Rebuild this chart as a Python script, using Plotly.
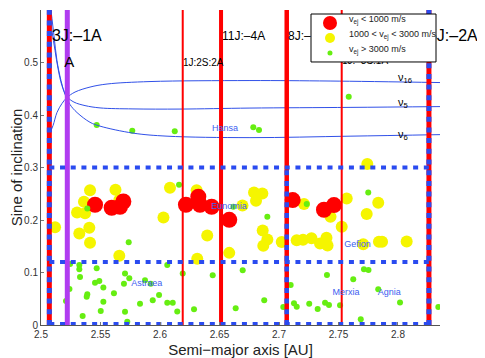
import plotly.graph_objects as go

# asteroid families: semi-major axis [AU] and sine of inclination
red_a = [2.5454, 2.5594, 2.5664, 2.5692, 2.6218, 2.6322, 2.6336, 2.6434, 2.6582, 2.7115, 2.7378, 2.7462]
red_i = [0.229, 0.2233, 0.2252, 0.2353, 0.229, 0.2443, 0.229, 0.2252, 0.2004, 0.238, 0.2195, 0.2284]

yellow_a = [2.5118, 2.5412, 2.5361, 2.5303, 2.5370, 2.5322, 2.5406, 2.5412, 2.5626, 2.5658,
            2.5658, 2.6029, 2.6084, 2.6308, 2.6397, 2.6313, 2.6582, 2.6693, 2.6790, 2.6860,
            2.6807, 2.6863, 2.6902, 2.6868, 2.7023, 2.7149, 2.7202, 2.7210, 2.7273, 2.7345,
            2.7399, 2.7408, 2.7433, 2.7527, 2.7569, 2.7708, 2.7737, 2.7742, 2.7834, 2.7840,
            2.7866, 2.8073]
yellow_i = [0.1861, 0.2567, 0.2347, 0.2143, 0.2128, 0.1742, 0.1851, 0.1565, 0.2576, 0.2380,
            0.1317, 0.2048, 0.2615, 0.2567, 0.1704, 0.1263, 0.1374, 0.2277, 0.2525, 0.2506,
            0.2366, 0.1800, 0.1628, 0.1508, 0.1580, 0.1616, 0.1622, 0.2303, 0.1651, 0.1552,
            0.1660, 0.1513, 0.2061, 0.1870, 0.2410, 0.1540, 0.2113, 0.3067, 0.2328, 0.1584,
            0.1584, 0.1590]

green_a = [2.5468, 2.5767, 2.6124, 2.6784, 2.6832, 2.7586, 2.6160, 2.5389, 2.6616, 2.6902,
           2.7233, 2.7750, 2.5737, 2.5244, 2.5322, 2.5322, 2.5468, 2.5328, 2.5706, 2.5742,
           2.5697, 2.5454, 2.5490, 2.5524, 2.5613, 2.5389, 2.5384, 2.5524, 2.5350, 2.5502,
           2.5706, 2.5725, 2.5832, 2.5939, 2.5992, 2.6061, 2.6061, 2.6107, 2.5874, 2.5922,
           2.5239, 2.5210, 2.6191, 2.6443, 2.6695, 2.6145, 2.6286, 2.6636, 2.6876, 2.7098,
           2.7126, 2.7149, 2.7036, 2.7403, 2.7624, 2.7714, 2.7752, 2.7834, 2.8017, 2.8339,
           2.7254, 2.7325, 2.7387, 2.7420, 2.7513, 2.7687]
green_i = [0.3811, 0.3702, 0.3689, 0.3765, 0.3712, 0.4347, 0.2672, 0.2219, 0.2252, 0.2061,
           0.2303, 0.2525, 0.1578, 0.1164, 0.1145, 0.1063, 0.1082, 0.0916, 0.0979, 0.0891,
           0.0788, 0.0807, 0.0840, 0.0712, 0.0605, 0.0586, 0.0540, 0.0445, 0.0172, 0.0267,
           0.0254, 0.0063, 0.0406, 0.0471, 0.0573, 0.1145, 0.0426, 0.0426, 0.0853, 0.0788,
           0.0687, 0.0458, 0.0979, 0.0948, 0.1044, 0.0258, 0.0300, 0.0319, 0.0471, 0.0763,
           0.0414, 0.0349, 0.0344, 0.0954, 0.0872, 0.1063, 0.1046, 0.0681, 0.0429, 0.0344,
           0.0406, 0.0305, 0.0424, 0.0382, 0.0378, 0.0111]

# secular resonances
nu16_a = [2.5071, 2.5101, 2.5134, 2.5176, 2.5218, 2.5286, 2.5412, 2.5555, 2.5916, 2.6756, 2.7429, 2.8353]
nu16_i = [0.3645, 0.3798, 0.4046, 0.4218, 0.4332, 0.4437, 0.4532, 0.4590, 0.4637, 0.4656, 0.4647, 0.4618]
nu5_a = [2.5076, 2.5092, 2.5118, 2.5143, 2.5176, 2.5218, 2.5277, 2.5370, 2.5496, 2.5773, 2.6168, 2.6756, 2.7597, 2.8353]
nu5_i = [0.5992, 0.5611, 0.5229, 0.4885, 0.4561, 0.4351, 0.4246, 0.4179, 0.4135, 0.4116, 0.4113, 0.4132, 0.4145, 0.4160]
nu6_a = [2.5084, 2.5109, 2.5134, 2.5168, 2.5202, 2.5244, 2.5303, 2.5412, 2.5496, 2.5773, 2.6059, 2.6756, 2.7597, 2.8353]
nu6_i = [0.5992, 0.5515, 0.5038, 0.4656, 0.4389, 0.4198, 0.4046, 0.3861, 0.3788, 0.3655, 0.3597, 0.3569, 0.3597, 0.3626]
nu_names = ["ν<sub>16</sub>", "ν<sub>5</sub>", "ν<sub>6</sub>"]
nu_label_a = [2.800, 2.800, 2.800]
nu_label_i = [0.470, 0.423, 0.362]

# mean motion resonances
res_names = ["3J:\u20131A", "A", "1J:2S:2A", "11J:\u20134A", "8J:\u20133A", "1J:\u20133S:1A", "5J:\u20132A"]
res_a = [2.507, 2.5221, 2.6191, 2.6513, 2.7065, 2.7527, 2.826]
res_label_a = [2.5092, 2.5195, 2.6193, 2.6521, 2.7076, 2.7529, 2.8252]
res_label_i = [0.548, 0.499, 0.499, 0.549, 0.549, 0.501, 0.548]
res_label_size = [16, 15, 10, 12, 12, 10, 16]

# family region boundaries
box_i = [0.3, 0.12, 0.002]
box_a = [2.507, 2.826]

fam_names = ["Hansa", "Eunomia", "Gefion", "Astraea", "Merxia", "Agnia"]
fam_a = [2.6546, 2.658, 2.766, 2.5888, 2.7563, 2.7927]
fam_i = [0.374, 0.225, 0.153, 0.078, 0.062, 0.062]

legend_names = ["v<sub>ej</sub> < 1000 m/s", "1000 < v<sub>ej</sub> < 3000 m/s", "v<sub>ej</sub> > 3000 m/s"]

RED = "#ff0000"
YELLOW = "#f5f500"
GREEN = "#66ee11"
BLUE = "#2a4bf0"
PURPLE = "#b03cf0"
FONT = "Liberation Sans, Arial, sans-serif"

fig = go.Figure()

fig.add_trace(go.Scatter(x=yellow_a, y=yellow_i, mode="markers", name=legend_names[1],
                         marker=dict(color=YELLOW, size=12, line=dict(width=0))))
fig.add_trace(go.Scatter(x=red_a, y=red_i, mode="markers", name=legend_names[0],
                         marker=dict(color=RED, size=16, line=dict(width=0))))
fig.add_trace(go.Scatter(x=green_a, y=green_i, mode="markers", name=legend_names[2],
                         marker=dict(color=GREEN, size=6, line=dict(width=0))))

for xa, yi in [(nu16_a, nu16_i), (nu5_a, nu5_i), (nu6_a, nu6_i)]:
    fig.add_trace(go.Scatter(x=xa, y=yi, mode="lines",
                             line=dict(color="#3050e8", width=1, shape="spline")))

# vertical resonance lines
widths = [5, 5, 2, 4, 4.5, 2, 5]
for k, a in enumerate(res_a):
    col = PURPLE if res_names[k] == "A" else RED
    fig.add_trace(go.Scatter(x=[a, a], y=[0, 0.6], mode="lines",
                             line=dict(color=col, width=widths[k])))

# blue dashed family boxes
dash = "5px,5.7px"
for yi in box_i:
    fig.add_trace(go.Scatter(x=box_a, y=[yi, yi], mode="lines",
                             line=dict(color=BLUE, width=4, dash=dash)))
for a in box_a:
    fig.add_trace(go.Scatter(x=[a, a], y=[0, 0.6], mode="lines",
                             line=dict(color=BLUE, width=5, dash=dash)))
fig.add_trace(go.Scatter(x=[res_a[4], res_a[4]], y=[0, 0.3], mode="lines",
                         line=dict(color=BLUE, width=4.5, dash=dash)))

fig.add_trace(go.Scatter(x=res_label_a, y=res_label_i, text=res_names, mode="text",
                         textposition="middle right", cliponaxis=False,
                         textfont=dict(family=FONT, size=res_label_size, color="black")))
fig.add_trace(go.Scatter(x=nu_label_a, y=nu_label_i, text=nu_names, mode="text",
                         textposition="middle right", cliponaxis=False,
                         textfont=dict(family=FONT, size=11, color="black")))
fig.add_trace(go.Scatter(x=fam_a, y=fam_i, text=fam_names, mode="text",
                         textposition="middle center",
                         textfont=dict(family=FONT, size=9, color="#4060f0")))

# legend box drawn on top of the resonance labels, as in the original
fig.add_shape(type="rect", xref="paper", yref="paper", x0=0.6767, x1=0.99, y0=0.835, y1=0.9873,
              fillcolor="white", line=dict(color="black", width=1), layer="above")
sw_y = [0.9587, 0.9111, 0.8635]
sw_size = [14, 10, 5]
sw_col = [RED, YELLOW, GREEN]
for k in range(3):
    r = sw_size[k] / 2
    fig.add_shape(type="circle", xref="paper", yref="paper", xsizemode="pixel", ysizemode="pixel",
                  xanchor=0.7243, yanchor=sw_y[k], x0=-r, x1=r, y0=-r, y1=r,
                  fillcolor=sw_col[k], line=dict(width=0), layer="above")
    fig.add_annotation(x=0.7669, y=sw_y[k] + 0.008, xref="paper", yref="paper", text=legend_names[k],
                       showarrow=False, xanchor="left", yanchor="middle",
                       font=dict(family=FONT, size=9, color="#222"))

fig.update_layout(
    width=477, height=350,
    margin=dict(l=33, r=45, t=2, b=33),
    plot_bgcolor="white", paper_bgcolor="white",
    showlegend=False,
    font=dict(family=FONT, size=10, color="#333"),
)
fig.update_xaxes(range=[2.5, 2.8353], tickvals=[2.5, 2.55, 2.6, 2.65, 2.7, 2.75, 2.8],
                 ticktext=["2.5", "2.55", "2.6", "2.65", "2.7", "2.75", "2.8"],
                 ticks="inside", ticklen=3, tickcolor="#777", showline=True, linecolor="#555",
                 showgrid=False, zeroline=False, automargin=False,
                 title=dict(text="Semi\u2212major axis [AU]", font=dict(size=15, color="#222"), standoff=5))
fig.update_yaxes(range=[0, 0.6], tickvals=[0, 0.1, 0.2, 0.3, 0.4, 0.5],
                 ticktext=["0", "0.1", "0.2", "0.3", "0.4", "0.5"],
                 ticks="inside", ticklen=3, tickcolor="#777", showline=True, linecolor="#555",
                 showgrid=False, zeroline=False, automargin=False,
                 title=dict(text="Sine of inclination", font=dict(size=15, color="#222"), standoff=0))

fig.write_html("out.html")
